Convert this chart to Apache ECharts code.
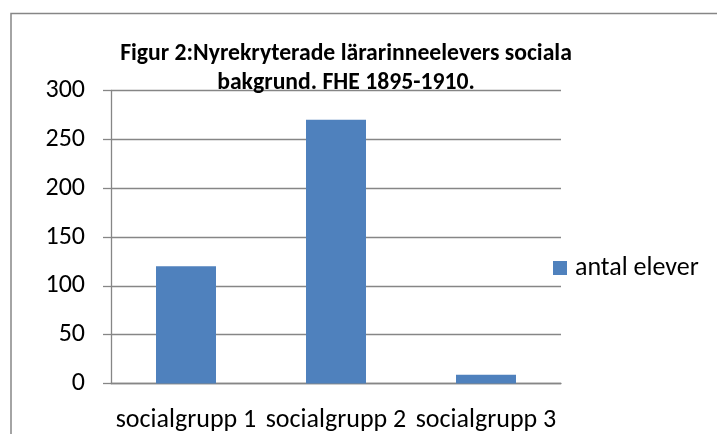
<!DOCTYPE html>
<html><head><meta charset="utf-8">
<script src="https://cdn.jsdelivr.net/npm/echarts@6/dist/echarts.min.js"></script>
<style>html,body{margin:0;padding:0;background:#fff}#c{width:717px;height:434px}</style>
</head><body><div id="c"></div>
<script>
const categories = ['socialgrupp 1', 'socialgrupp 2', 'socialgrupp 3'];
const antalElever = [120, 270, 9];
const seriesName = 'antal elever';
const titleText = 'Figur 2:Nyrekryterade lärarinneelevers sociala\nbakgrund. FHE 1895-1910.';
const FONT = 'Carlito, "Liberation Sans Narrow", "Open Sans", sans-serif';
const GRAY = '#868686';
const chart = echarts.init(document.getElementById('c'));
chart.setOption({
  animation: false,
  backgroundColor: '#fff',
  title: {
    text: titleText, left: 346, top: 40, textAlign: 'center', padding: 0,
    textStyle: { fontFamily: FONT, fontWeight: 'bold', fontSize: 23.7, color: '#000', lineHeight: 28.5 }
  },
  legend: {
    data: [seriesName], orient: 'vertical', left: 553, top: 255, padding: 0,
    itemWidth: 14, itemHeight: 14,
    textStyle: { fontFamily: FONT, fontSize: 26, color: '#000', padding: [0,0,0,3] },
    icon: 'rect'
  },
  grid: { left: 111, right: 156, top: 90.5, bottom: 50.5, containLabel: false },
  xAxis: {
    type: 'category', data: categories,
    axisLine: { lineStyle: { color: GRAY, width: 1.3 } },
    axisTick: { length: 8, lineStyle: { color: GRAY, width: 1.3 } },
    axisLabel: { fontFamily: FONT, fontSize: 26, color: '#000', margin: 24, interval: 0, hideOverlap: false }
  },
  yAxis: {
    type: 'value', min: 0, max: 300, interval: 50,
    axisLine: { show: true, lineStyle: { color: GRAY, width: 1.3 } },
    axisTick: { show: true, length: 8, lineStyle: { color: GRAY, width: 1.3 } },
    splitLine: { lineStyle: { color: GRAY, width: 1.3 } },
    axisLabel: { fontFamily: FONT, fontSize: 26, color: '#000', margin: 26 }
  },
  series: [{
    name: seriesName, type: 'bar', data: antalElever,
    barWidth: '40%',
    itemStyle: { color: '#4F81BD' }
  }],
  graphic: [{
    type: 'rect', shape: { x: 11, y: 13.5, width: 900, height: 600 },
    style: { fill: 'none', stroke: GRAY, lineWidth: 1.5 }, silent: true
  }]
});
</script></body></html>
